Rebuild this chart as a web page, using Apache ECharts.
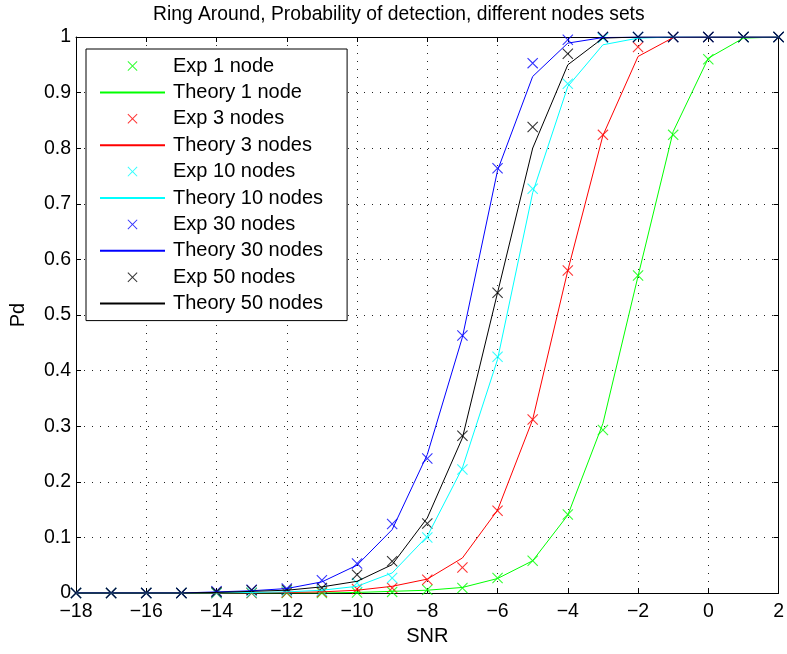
<!DOCTYPE html>
<html>
<head>
<meta charset="utf-8">
<script src="https://cdn.jsdelivr.net/npm/echarts@6/dist/echarts.min.js"></script>
<style>
  html, body { margin: 0; padding: 0; background: #fff; }
  #chart { width: 787px; height: 654px; }
</style>
</head>
<body>
<div id="chart"></div>
<script>
// SNR grid (dB)
const snr = [-18, -17, -16, -15, -14, -13, -12, -11, -10, -9, -8, -7, -6, -5, -4, -3, -2, -1, 0, 1, 2];

// Measured detection probability
const exp1  = [0, 0, 0, 0, 0, 0, 0, 0, 0.001, 0.002, 0.006, 0.009, 0.027, 0.058, 0.141, 0.293, 0.571, 0.824, 0.960, 1, 1];
const exp3  = [0, 0, 0, 0, 0, 0, 0.001, 0.002, 0.007, 0.009, 0.024, 0.046, 0.148, 0.312, 0.580, 0.824, 0.982, 1, 1, 1, 1];
const exp10 = [0, 0, 0, 0, 0, 0.001, 0.003, 0.004, 0.018, 0.027, 0.100, 0.222, 0.425, 0.727, 0.916, 0.998, 1, 1, 1, 1, 1];
const exp30 = [0, 0, 0, 0, 0.003, 0.006, 0.008, 0.023, 0.053, 0.124, 0.242, 0.463, 0.764, 0.953, 0.995, 1, 1, 1, 1, 1, 1];
const exp50 = [0, 0, 0, 0, 0.002, 0.005, 0.006, 0.009, 0.033, 0.057, 0.125, 0.283, 0.540, 0.838, 0.970, 1, 1, 1, 1, 1, 1];

// Theoretical detection probability
const th1  = [0, 0, 0, 0, 0, 0, 0, 0, 0.001, 0.003, 0.005, 0.010, 0.026, 0.058, 0.140, 0.305, 0.570, 0.830, 0.962, 0.998, 1];
const th3  = [0, 0, 0, 0, 0, 0, 0.001, 0.002, 0.005, 0.012, 0.025, 0.063, 0.149, 0.312, 0.580, 0.823, 0.965, 0.999, 1, 1, 1];
const th10 = [0, 0, 0, 0, 0, 0.001, 0.002, 0.005, 0.012, 0.036, 0.102, 0.225, 0.420, 0.720, 0.911, 0.986, 0.998, 1, 1, 1, 1];
const th30 = [0, 0, 0, 0, 0.002, 0.004, 0.008, 0.020, 0.050, 0.114, 0.249, 0.460, 0.760, 0.929, 0.989, 0.999, 1, 1, 1, 1, 1];
const th50 = [0, 0, 0, 0, 0.001, 0.003, 0.005, 0.011, 0.021, 0.051, 0.135, 0.279, 0.540, 0.800, 0.950, 0.998, 1, 1, 1, 1, 1];

const seriesDefs = [
  { name: 'Exp 1 node',       kind: 'exp', color: '#00ff00', values: exp1 },
  { name: 'Theory 1 node',    kind: 'th',  color: '#00ff00', values: th1 },
  { name: 'Exp 3 nodes',      kind: 'exp', color: '#ff0000', values: exp3 },
  { name: 'Theory 3 nodes',   kind: 'th',  color: '#ff0000', values: th3 },
  { name: 'Exp 10 nodes',     kind: 'exp', color: '#00ffff', values: exp10 },
  { name: 'Theory 10 nodes',  kind: 'th',  color: '#00ffff', values: th10 },
  { name: 'Exp 30 nodes',     kind: 'exp', color: '#0000ff', values: exp30 },
  { name: 'Theory 30 nodes',  kind: 'th',  color: '#0000ff', values: th30 },
  { name: 'Exp 50 nodes',     kind: 'exp', color: '#000000', values: exp50 },
  { name: 'Theory 50 nodes',  kind: 'th',  color: '#000000', values: th50 }
];

// thin "x" marker
const crossPath = 'path://M0,0.7L0.7,0L5,4.3L9.3,0L10,0.7L5.7,5L10,9.3L9.3,10L5,5.7L0.7,10L0,9.3L4.3,5Z';

const FONT = 'Liberation Sans, Arial, Helvetica, sans-serif';

const series = seriesDefs.map(d => {
  const data = snr.map((x, i) => [x, d.values[i]]);
  if (d.kind === 'exp') {
    return {
      name: d.name, type: 'scatter', data,
      symbol: crossPath, symbolSize: 11,
      itemStyle: { color: d.color },
      xAxisIndex: 0, yAxisIndex: 0,
      silent: true, animation: false
    };
  }
  return {
    name: d.name, type: 'line', data,
    symbol: 'none', showSymbol: false,
    lineStyle: { color: d.color, width: 1 },
    // transparent item colour keeps the legend icon a plain line
    itemStyle: { color: 'rgba(0,0,0,0)' },
    xAxisIndex: 0, yAxisIndex: 0,
    silent: true, animation: false
  };
});

const tickStyle = { show: true, inside: true, length: 5, lineStyle: { color: '#000', width: 1 } };
const gridDots = { show: true, lineStyle: { color: '#222', width: 1, type: [1, 7] } };

const chart = echarts.init(document.getElementById('chart'), null, { renderer: 'canvas' });
chart.setOption({
  backgroundColor: '#fff',
  animation: false,
  title: {
    text: 'Ring Around, Probability of detection, different nodes sets',
    left: 148, top: 0,
    textStyle: { fontFamily: FONT, fontSize: 19.3, fontWeight: 'normal', color: '#000' }
  },
  grid: { left: 73, right: 8, top: 37, bottom: 61, containLabel: false },
  legend: {
    orient: 'vertical',
    left: 86, top: 49,
    padding: [7, 24, 7, 13],
    itemWidth: 65, itemHeight: 10, itemGap: 6.4,
    backgroundColor: '#fff',
    borderColor: '#000', borderWidth: 1, borderRadius: 0,
    textStyle: { fontFamily: FONT, fontSize: 20, color: '#000', padding: [0, 0, 0, 3] },
    data: seriesDefs.map(d => d.name),
    selectedMode: false
  },
  xAxis: [
    {
      type: 'value', min: -18, max: 2, interval: 2,
      name: 'SNR', nameLocation: 'middle', nameGap: 32,
      nameTextStyle: { fontFamily: FONT, fontSize: 20, color: '#000' },
      axisLine: { show: true, onZero: false, lineStyle: { color: '#000', width: 1 } },
      axisTick: tickStyle,
      axisLabel: { fontFamily: FONT, fontSize: 19.5, color: '#000', margin: 9,
                   formatter: v => (v < 0 ? '\u2212' + Math.abs(v) : String(v)) },
      splitLine: gridDots
    },
    {
      type: 'value', min: -18, max: 2, interval: 2, position: 'top',
      axisLine: { show: true, onZero: false, lineStyle: { color: '#000', width: 1 } },
      axisTick: tickStyle,
      axisLabel: { show: false },
      splitLine: { show: false }
    }
  ],
  yAxis: [
    {
      type: 'value', min: 0, max: 1, interval: 0.1,
      name: 'Pd', nameLocation: 'middle', nameGap: 48,
      nameTextStyle: { fontFamily: FONT, fontSize: 20, color: '#000' },
      axisLine: { show: true, onZero: false, lineStyle: { color: '#000', width: 1 } },
      axisTick: tickStyle,
      axisLabel: { fontFamily: FONT, fontSize: 19.5, color: '#000', margin: 5,
                   formatter: v => String(Math.round(v * 10) / 10) },
      splitLine: gridDots
    },
    {
      type: 'value', min: 0, max: 1, interval: 0.1, position: 'right',
      axisLine: { show: true, onZero: false, lineStyle: { color: '#000', width: 1 } },
      axisTick: tickStyle,
      axisLabel: { show: false },
      splitLine: { show: false }
    }
  ],
  series
});
</script>
</body>
</html>
